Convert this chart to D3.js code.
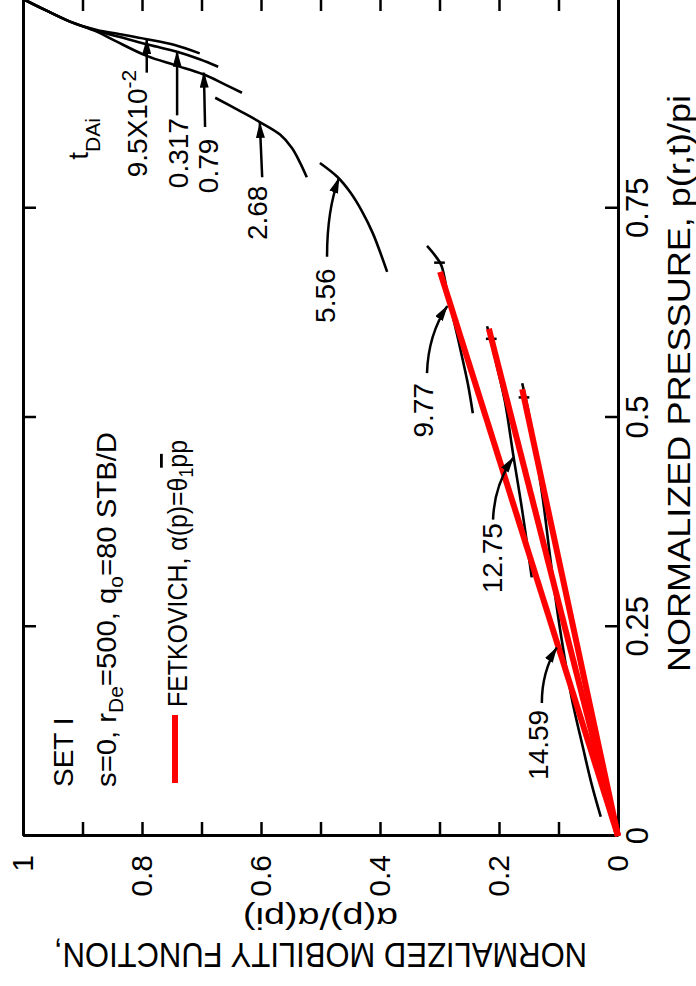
<!DOCTYPE html>
<html>
<head>
<meta charset="utf-8">
<script src="https://cdn.jsdelivr.net/npm/d3@7"></script>
<style>
  html, body { margin: 0; padding: 0; background: #fff; }
  svg { display: block; }
</style>
</head>
<body>
<svg id="chart" width="696" height="986"></svg>
<script>
const FONT = '"Liberation Sans", Arial, Helvetica, sans-serif';

// axis ticks
const mobTicks = [0, 0.1, 0.2, 0.3, 0.4, 0.5, 0.6, 0.7, 0.8, 0.9, 1];
const mobTickLabels = ['0', '', '0.2', '', '0.4', '', '0.6', '', '0.8', '', '1'];
const presTicks = [0, 0.25, 0.5, 0.75, 1];
const presTickLabels = ['0', '0.25', '0.5', '0.75', ''];

// curves : [pressure p/pi, mobility a(p)/a(pi)], one per tDAi
const tDAi = ['9.5X10', '0.317', '0.79', '2.68', '5.56', '9.77', '12.75', '14.59'];
const curveT0095 = [[1.0, 1.0], [0.987, 0.963], [0.973, 0.921], [0.963, 0.876], [0.958, 0.837], [0.952, 0.792], [0.945, 0.745], [0.935, 0.703]];
const curveT0317 = [[1.0, 1.0], [0.987, 0.963], [0.973, 0.921], [0.962, 0.876], [0.953, 0.829], [0.945, 0.787], [0.937, 0.741], [0.928, 0.703], [0.919, 0.672]];
const curveT079  = [[1.0, 1.0], [0.987, 0.963], [0.973, 0.921], [0.961, 0.876], [0.950, 0.845], [0.932, 0.792], [0.921, 0.745], [0.910, 0.697], [0.898, 0.661], [0.888, 0.632]];
const curveT268  = [[0.882, 0.677], [0.866, 0.635], [0.853, 0.602], [0.838, 0.568], [0.822, 0.548], [0.804, 0.534], [0.787, 0.523]];
const curveT556  = [[0.804, 0.501], [0.787, 0.471], [0.769, 0.450], [0.746, 0.430], [0.720, 0.412], [0.698, 0.400], [0.674, 0.388]];
const curveT977  = [[0.705, 0.321], [0.694, 0.308], [0.682, 0.297], [0.646, 0.286], [0.610, 0.274], [0.569, 0.261], [0.539, 0.252], [0.505, 0.244]];
const curveT1275 = [[0.609, 0.220], [0.587, 0.212], [0.557, 0.202], [0.519, 0.190], [0.455, 0.176], [0.389, 0.161], [0.309, 0.145]];
const curveT1459 = [[0.541, 0.161], [0.509, 0.151], [0.461, 0.139], [0.401, 0.126], [0.333, 0.114], [0.264, 0.101], [0.210, 0.089], [0.162, 0.077], [0.106, 0.059], [0.061, 0.044], [0.023, 0.029]];
const curves = [curveT0095, curveT0317, curveT079, curveT268, curveT556, curveT977, curveT1275, curveT1459];

// Fetkovich straight lines a(p) = theta1 * pbar * p, ending at pbar
const fetPbar  = [0.674, 0.606, 0.534];
const fetAlpha = [0.299, 0.217, 0.161];
// "+" marks on the curves at pbar
const markP = [0.685, 0.594, 0.524];
const markM = [0.300, 0.213, 0.158];

// arrows (tail -> ctrl -> tip) and label anchors, in data units
const arrowTip  = [[0.952, 0.792], [0.937, 0.741], [0.912, 0.696], [0.852, 0.602], [0.786, 0.469], [0.633, 0.287], [0.452, 0.176], [0.225, 0.103]];
const arrowCtrl = [[0.912, 0.792], [0.861, 0.741], [0.847, 0.694], [0.787, 0.598], [0.748, 0.489], [0.599, 0.319], [0.419, 0.208], [0.196, 0.128]];
const arrowTail = [[0.912, 0.792], [0.861, 0.741], [0.847, 0.694], [0.787, 0.598], [0.692, 0.489], [0.553, 0.321], [0.378, 0.210], [0.159, 0.128]];
const labelP = [0.787, 0.774, 0.768, 0.712, 0.613, 0.476, 0.290, 0.067];
const labelM = [0.792, 0.723, 0.672, 0.590, 0.476, 0.311, 0.195, 0.118];

// the figure is drawn upright in a 986 x 696 frame, then turned a quarter left
const W = 986;
const svg = d3.select('#chart');
svg.append('rect').attr('width', 696).attr('height', 986).attr('fill', '#fff');

const defs = svg.append('defs');
defs.append('marker')
  .attr('id', 'head')
  .attr('viewBox', '0 0 16 9')
  .attr('refX', 15).attr('refY', 4.5)
  .attr('markerWidth', 16).attr('markerHeight', 9)
  .attr('markerUnits', 'userSpaceOnUse')
  .attr('orient', 'auto')
  .append('path').attr('d', 'M0,0L16,4.5L0,9Z').attr('fill', '#000');

const g = svg.append('g')
  .attr('transform', `translate(0,${W}) rotate(-90)`)
  .attr('font-family', FONT);

const x = d3.scaleLinear().domain([0, 1]).range([150, 987]);
const y = d3.scaleLinear().domain([0, 1]).range([618, 23]);

function styleAxis(sel, size) {
  sel.attr('font-family', FONT).attr('font-size', size);
  sel.select('.domain').attr('stroke-width', 3).attr('stroke', '#000');
  sel.selectAll('.tick line').attr('stroke-width', 2.5).attr('stroke', '#000');
  sel.selectAll('.tick text').attr('fill', '#000');
}

// mobility axis (left) and its mirror (right)
g.append('g')
  .attr('transform', `translate(${x(0)},0)`)
  .call(d3.axisLeft(y).tickValues(mobTicks).tickSizeInner(-14).tickSizeOuter(0)
    .tickPadding(19).tickFormat((d, i) => mobTickLabels[i]))
  .call(styleAxis, 30);

g.append('g')
  .attr('transform', `translate(${x(1)},0)`)
  .call(d3.axisRight(y).tickValues(mobTicks).tickSizeInner(-12).tickSizeOuter(0).tickFormat(''))
  .call(styleAxis, 30);

// pressure axis (bottom) and its mirror (top)
g.append('g')
  .attr('transform', `translate(0,${y(0)})`)
  .call(d3.axisBottom(x).tickValues(presTicks).tickSizeInner(-13).tickSizeOuter(0)
    .tickPadding(8).tickFormat((d, i) => presTickLabels[i]))
  .call(styleAxis, 31);

g.append('g')
  .attr('transform', `translate(0,${y(1)})`)
  .call(d3.axisTop(x).tickValues(presTicks).tickSizeInner(-13).tickSizeOuter(0).tickFormat(''))
  .call(styleAxis, 31);

// axis titles
g.append('text')
  .attr('x', 314).attr('y', 690)
  .attr('font-size', 32)
  .attr('textLength', 577).attr('lengthAdjust', 'spacingAndGlyphs')
  .text('NORMALIZED PRESSURE, p(r,t)/pi');

// lettering is tall and narrow: smaller font, stretched in height
g.append('text')
  .attr('transform', `translate(43,${y(0.5)}) rotate(-90) scale(1,1.13)`)
  .attr('text-anchor', 'middle')
  .attr('font-size', 31)
  .text('NORMALIZED MOBILITY FUNCTION,');

g.append('text')
  .attr('transform', `translate(78,${y(0.5)}) rotate(-90)`)
  .attr('text-anchor', 'middle')
  .attr('font-size', 30)
  .attr('textLength', 155).attr('lengthAdjust', 'spacingAndGlyphs')
  .text('α(p)/α(pi)');

// simulated curves
const line = d3.line()
  .x(d => x(d[0]))
  .y(d => y(d[1]))
  .curve(d3.curveCatmullRom.alpha(0.5));

g.append('g').selectAll('path')
  .data(curves)
  .join('path')
  .attr('d', line)
  .attr('fill', 'none')
  .attr('stroke', '#000')
  .attr('stroke-width', 2.6);

// "+" marks at pbar
g.append('g').selectAll('line')
  .data(markP)
  .join('line')
  .attr('x1', d => x(d)).attr('x2', d => x(d))
  .attr('y1', (d, i) => y(markM[i] - 0.009))
  .attr('y2', (d, i) => y(markM[i] + 0.009))
  .attr('stroke', '#000')
  .attr('stroke-width', 2.5);

// Fetkovich lines
g.append('g').selectAll('path')
  .data(fetPbar)
  .join('path')
  .attr('d', (d, i) => d3.line().x(e => x(e[0])).y(e => y(e[1]))([[0, 0], [d, fetAlpha[i]]]))
  .attr('stroke', '#ff0000')
  .attr('stroke-width', 6)
  .attr('fill', 'none');

// arrows to each curve
g.append('g').selectAll('path')
  .data(arrowTip)
  .join('path')
  .attr('d', (d, i) => {
    const p = d3.path();
    p.moveTo(x(arrowTail[i][0]), y(arrowTail[i][1]));
    p.quadraticCurveTo(x(arrowCtrl[i][0]), y(arrowCtrl[i][1]), x(d[0]), y(d[1]));
    return p.toString();
  })
  .attr('fill', 'none')
  .attr('stroke', '#000')
  .attr('stroke-width', 2.5)
  .attr('marker-end', 'url(#head)');

// curve labels
const labels = g.append('g').attr('font-size', 28);
tDAi.forEach((t, i) => {
  const txt = labels.append('text')
    .attr('x', x(labelP[i])).attr('y', y(labelM[i]));
  txt.append('tspan').text(t);
  if (i === 0) {
    txt.append('tspan').attr('dy', -11).attr('font-size', 21).text('-2');
  }
});

// tDAi heading
const head = g.append('text')
  .attr('x', x(0.808)).attr('y', y(0.891))
  .attr('font-size', 28);
head.append('tspan').text('t');
head.append('tspan').attr('dy', 12).attr('font-size', 21).text('DAi');

// legend block
g.append('text')
  .attr('x', 199).attr('y', 73)
  .attr('font-size', 28)
  .text('SET I');

const setText = g.append('text')
  .attr('x', 199).attr('y', 116)
  .attr('font-size', 28)
  .attr('textLength', 355).attr('lengthAdjust', 'spacingAndGlyphs');
setText.append('tspan').text('s=0, r');
setText.append('tspan').attr('dy', 7).attr('font-size', 20).text('De');
setText.append('tspan').attr('dy', -7).text('=500, q');
setText.append('tspan').attr('dy', 7).attr('font-size', 20).text('o');
setText.append('tspan').attr('dy', -7).text('=80 STB/D');

g.append('line')
  .attr('x1', 203).attr('x2', 271)
  .attr('y1', 175).attr('y2', 175)
  .attr('stroke', '#ff0000')
  .attr('stroke-width', 6);

const fetText = g.append('text')
  .attr('x', 279).attr('y', 187)
  .attr('font-size', 28)
  .attr('textLength', 267).attr('lengthAdjust', 'spacingAndGlyphs');
fetText.append('tspan').text('FETKOVICH, α(p)=θ');
fetText.append('tspan').attr('dy', 6).attr('font-size', 20).text('1');
fetText.append('tspan').attr('dy', -6).attr('text-decoration', 'overline').text('p');
fetText.append('tspan').text('p');
</script>
</body>
</html>
